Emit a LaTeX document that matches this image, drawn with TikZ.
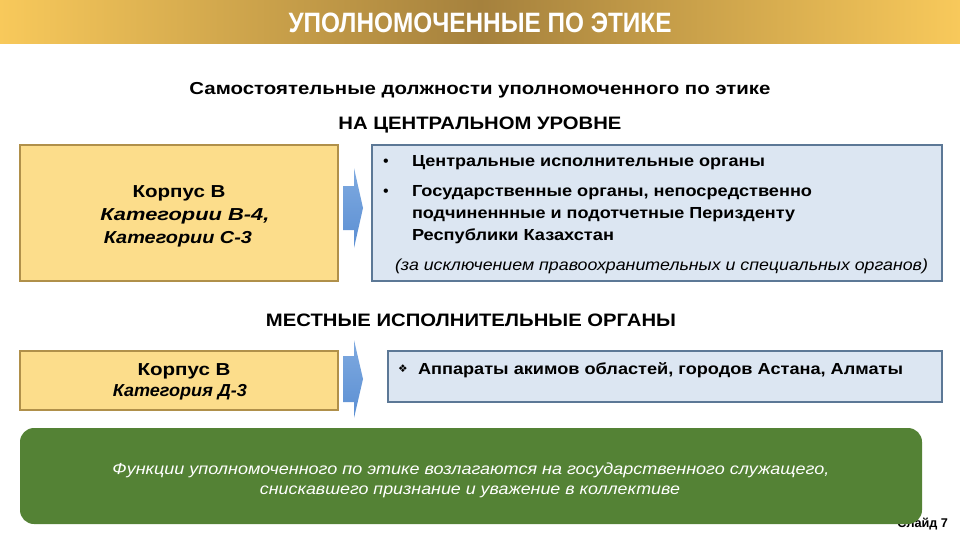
\documentclass[tikz,border=0pt]{standalone}
\usepackage{fontspec}
\usepackage{graphicx}
\setmainfont{Liberation Sans}
\newfontfamily\symfont{DejaVu Sans}
\newlength\pxu
\setlength\pxu{0.75pt}
\newcommand\fw[2]{\resizebox{#1\pxu}{\height}{#2}}
\definecolor{goldL}{HTML}{F8C95B}
\definecolor{goldD}{HTML}{A5813D}
\definecolor{yelF}{HTML}{FCDD8B}
\definecolor{yelB}{HTML}{B0904A}
\definecolor{bluF}{HTML}{DCE6F2}
\definecolor{bluB}{HTML}{5C7896}
\definecolor{arrB}{HTML}{5B8FD3}
\definecolor{arrL}{HTML}{7FAAE0}
\definecolor{grn}{HTML}{548235}
\tikzset{
  txt/.style={inner sep=0pt, outer sep=0pt, font=\fontsize{12}{14}\selectfont},
  yelbox/.style={draw=yelB, fill=yelF, line width=0.8pt},
  blubox/.style={draw=bluB, fill=bluF, line width=0.8pt},
  blockarrow/.style={top color=arrL, bottom color=arrB, draw=none},
}
\begin{document}
\begin{tikzpicture}[x=\pxu, y=-\pxu]
\useasboundingbox (0,0) rectangle (960,540);
\fill[white] (0,0) rectangle (960,540);
% title bar
\shade[left color=goldL, right color=goldL, middle color=goldD] (0,0) rectangle (960,43);
\node[txt, anchor=base, text=white, font=\bfseries\fontsize{21}{24}\selectfont] (title) at (480,32) {\fw{383}{УПОЛНОМОЧЕННЫЕ  ПО ЭТИКЕ}};
% headings
\node[txt, anchor=base, font=\bfseries\fontsize{13}{15}\selectfont] (sub) at (480,94) {\fw{581}{Самостоятельные должности уполномоченного по этике}};
\node[txt, anchor=base, font=\bfseries\fontsize{13.5}{15}\selectfont] (central) at (480,129) {\fw{283}{НА ЦЕНТРАЛЬНОМ УРОВНЕ}};
% box 1
\path[yelbox] (20,145) rectangle (338,281);
\node[txt, anchor=base, font=\bfseries\fontsize{13}{15}\selectfont] (k1) at (179,197) {\fw{93}{Корпус В}};
\node[txt, anchor=base, font=\bfseries\itshape\fontsize{13}{15}\selectfont] (k2) at (185,220) {\fw{169}{Категории В-4,}};
\node[txt, anchor=base, font=\bfseries\itshape\fontsize{13}{15}\selectfont] (k3) at (178,243) {\fw{148}{Категории С-3}};
% arrow 1
\coordinate (a1) at (343,186);
\path[blockarrow] (a1) -- (354,186) -- (354,168) -- (363,208) -- (354,248) -- (354,230) -- (343,230) -- cycle;
% blue box 1
\path[blubox] (372,145) rectangle (942,281);
\node[txt, anchor=base] (b1) at (386,166) {•};
\node[txt, anchor=base west, font=\bfseries\fontsize{12}{14}\selectfont] (l1) at (412,166) {\fw{353}{Центральные исполнительные органы}};
\node[txt, anchor=base] (b2) at (386,196) {•};
\node[txt, anchor=base west, font=\bfseries\fontsize{12}{14}\selectfont] (l2) at (412,196) {\fw{400}{Государственные органы, непосредственно}};
\node[txt, anchor=base west, font=\bfseries\fontsize{12}{14}\selectfont] (l3) at (412,218) {\fw{383}{подчиненнные и подотчетные Перизденту}};
\node[txt, anchor=base west, font=\bfseries\fontsize{12}{14}\selectfont] (l4) at (412,240) {\fw{202}{Республики Казахстан}};
\node[txt, anchor=base west, font=\itshape\fontsize{12}{14}\selectfont] (l5) at (395,270) {\fw{533}{(за исключением правоохранительных и специальных органов)}};
% local heading
\node[txt, anchor=base, font=\bfseries\fontsize{13.5}{15}\selectfont] (local) at (471,326) {\fw{410}{МЕСТНЫЕ ИСПОЛНИТЕЛЬНЫЕ ОРГАНЫ}};
% box 2
\path[yelbox] (20,351) rectangle (338,410);
\node[txt, anchor=base, font=\bfseries\fontsize{13}{15}\selectfont] (m1) at (184,375) {\fw{93}{Корпус В}};
\node[txt, anchor=base, font=\bfseries\itshape\fontsize{13}{15}\selectfont] (m2) at (180,396) {\fw{134}{Категория Д-3}};
% arrow 2
\coordinate (a2) at (343,356);
\path[blockarrow] (a2) -- (354,356) -- (354,340) -- (363,379) -- (354,418) -- (354,402) -- (343,402) -- cycle;
% blue box 2
\path[blubox] (388,351) rectangle (942,402);
\node[txt, anchor=base west, font=\symfont\fontsize{8}{10}\selectfont] (d1) at (398,372) {❖};
\node[txt, anchor=base west, font=\bfseries\fontsize{12}{14}\selectfont] (n1) at (418,374) {\fw{485}{Аппараты  акимов областей, городов Астана, Алматы}};
% slide number
\node[txt, anchor=base east, font=\bfseries\fontsize{9.5}{11}\selectfont] (slide) at (948,527) {Слайд 7};
% green box
\path[fill=grn, rounded corners=14\pxu] (20,428) rectangle (922,524);
\node[txt, anchor=base, text=white, font=\itshape\fontsize{12}{14}\selectfont] (g1) at (471,474) {\fw{717}{Функции уполномоченного по этике возлагаются на государственного служащего,}};
\node[txt, anchor=base, text=white, font=\itshape\fontsize{12}{14}\selectfont] (g2) at (470,494) {\fw{420}{снискавшего признание и уважение в коллективе}};
\end{tikzpicture}
\end{document}
